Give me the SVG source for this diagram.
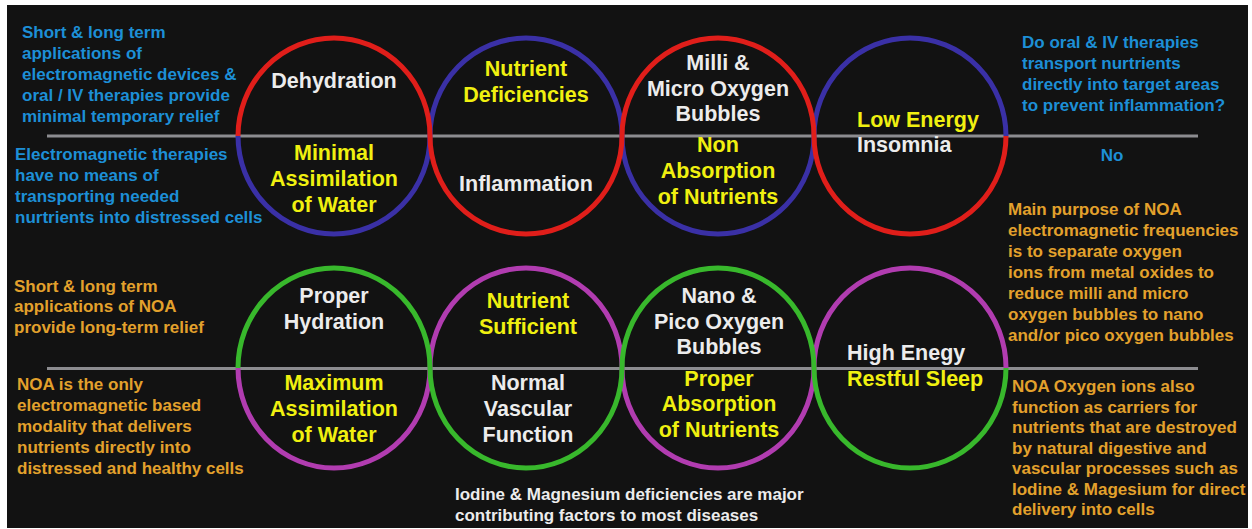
<svg xmlns="http://www.w3.org/2000/svg" width="1252" height="529" viewBox="0 0 1252 529">
<style>
text{font-family:"Liberation Sans",Arial,sans-serif;font-weight:bold}
.c{font-size:21.5px;text-anchor:middle}
.s{font-size:17px}
.w{fill:#ececec}
.y{fill:#f0f010}
.b{fill:#1d8fd6}
.o{fill:#e3a12c}
.arc{fill:none;stroke-width:5}
.red{stroke:#e01e1a}
.blu{stroke:#3a30a6}
.grn{stroke:#38b82c}
.mag{stroke:#b13cb0}
.axis{stroke:#8c8c90;stroke-width:3}
</style>
<rect x="0" y="0" width="1252" height="529" fill="#ffffff"/>
<rect x="7" y="5" width="1241" height="523" fill="#121212"/>
<g id="axes">
<line class="axis" x1="47" y1="136" x2="1198" y2="136"/>
<line class="axis" x1="47" y1="368.5" x2="1198" y2="368.5"/>
</g>
<g id="connectors">
<!-- under layer: blue / magenta halves -->
<path class="arc blu" d="M238 136 A96 98 0 0 0 430 136"/>
<path class="arc blu" d="M430 136 A96 98 0 0 1 622 136"/>
<path class="arc blu" d="M622 136 A96 98 0 0 0 814 136"/>
<path class="arc blu" d="M814 136 A96 98 0 0 1 1006 136"/>
<path class="arc mag" d="M238 368 A96 100 0 0 0 430 368"/>
<path class="arc mag" d="M430 368 A96 100 0 0 1 622 368"/>
<path class="arc mag" d="M622 368 A96 100 0 0 0 814 368"/>
<path class="arc mag" d="M814 368 A96 100 0 0 1 1006 368"/>
<!-- over layer: red / green halves -->
<path class="arc red" d="M238 136 A96 98 0 0 1 430 136"/>
<path class="arc red" d="M430 136 A96 98 0 0 0 622 136"/>
<path class="arc red" d="M622 136 A96 98 0 0 1 814 136"/>
<path class="arc red" d="M814 136 A96 98 0 0 0 1006 136"/>
<path class="arc grn" d="M238 368 A96 100 0 0 1 430 368"/>
<path class="arc grn" d="M430 368 A96 100 0 0 0 622 368"/>
<path class="arc grn" d="M622 368 A96 100 0 0 1 814 368"/>
<path class="arc grn" d="M814 368 A96 100 0 0 0 1006 368"/>
</g>
<g id="node-top-1">
<text class="c w" x="334" y="88">Dehydration</text>
<text class="c y" x="334" y="160">Minimal</text>
<text class="c y" x="334" y="186">Assimilation</text>
<text class="c y" x="334" y="212">of Water</text>
</g>
<g id="node-top-2">
<text class="c y" x="526" y="76">Nutrient</text>
<text class="c y" x="526" y="102">Deficiencies</text>
<text class="c w" x="526" y="191">Inflammation</text>
</g>
<g id="node-top-3">
<text class="c w" x="718" y="70">Milli &amp;</text>
<text class="c w" x="718" y="96">Micro Oxygen</text>
<text class="c w" x="718" y="121">Bubbles</text>
<text class="c y" x="718" y="152">Non</text>
<text class="c y" x="718" y="178">Absorption</text>
<text class="c y" x="718" y="204">of Nutrients</text>
</g>
<g id="node-top-4">
<text class="c y" x="857" y="127" text-anchor="start" style="text-anchor:start">Low Energy</text>
<text class="c w" x="857" y="152" style="text-anchor:start">Insomnia</text>
</g>
<g id="node-bottom-1">
<text class="c w" x="334" y="303">Proper</text>
<text class="c w" x="334" y="329">Hydration</text>
<text class="c y" x="334" y="390">Maximum</text>
<text class="c y" x="334" y="416">Assimilation</text>
<text class="c y" x="334" y="442">of Water</text>
</g>
<g id="node-bottom-2">
<text class="c y" x="528" y="308">Nutrient</text>
<text class="c y" x="528" y="334">Sufficient</text>
<text class="c w" x="528" y="390">Normal</text>
<text class="c w" x="528" y="416">Vascular</text>
<text class="c w" x="528" y="442">Function</text>
</g>
<g id="node-bottom-3">
<text class="c w" x="719" y="303">Nano &amp;</text>
<text class="c w" x="719" y="329">Pico Oxygen</text>
<text class="c w" x="719" y="354">Bubbles</text>
<text class="c y" x="719" y="386">Proper</text>
<text class="c y" x="719" y="411">Absorption</text>
<text class="c y" x="719" y="437">of Nutrients</text>
</g>
<g id="node-bottom-4">
<text class="c w" x="847" y="360" style="text-anchor:start">High Enegy</text>
<text class="c y" x="847" y="386" style="text-anchor:start">Restful Sleep</text>
</g>
<g id="note-top-left-upper">
<text class="s b" x="22" y="38">Short &amp; long term</text>
<text class="s b" x="22" y="59">applications of</text>
<text class="s b" x="22" y="80">electromagnetic devices &amp;</text>
<text class="s b" x="22" y="101">oral / IV therapies provide</text>
<text class="s b" x="22" y="122">minimal temporary relief</text>
</g>
<g id="note-top-left-lower">
<text class="s b" x="15" y="160">Electromagnetic therapies</text>
<text class="s b" x="15" y="181">have no means of</text>
<text class="s b" x="15" y="202">transporting needed</text>
<text class="s b" x="15" y="223">nurtrients into distressed cells</text>
</g>
<g id="note-top-right-upper">
<text class="s b" x="1022" y="48">Do oral &amp; IV therapies</text>
<text class="s b" x="1022" y="69">transport nurtrients</text>
<text class="s b" x="1022" y="90">directly into target areas</text>
<text class="s b" x="1022" y="111">to prevent inflammation?</text>
</g>
<g id="note-top-right-lower">
<text class="s b" x="1112" y="161" text-anchor="middle">No</text>
</g>
<g id="note-right-middle">
<text class="s o" x="1008" y="215">Main purpose of NOA</text>
<text class="s o" x="1008" y="236">electromagnetic frequencies</text>
<text class="s o" x="1008" y="257">is to separate oxygen</text>
<text class="s o" x="1008" y="278">ions from metal oxides to</text>
<text class="s o" x="1008" y="299">reduce milli and micro</text>
<text class="s o" x="1008" y="320">oxygen bubbles to nano</text>
<text class="s o" x="1008" y="341">and/or pico oxygen bubbles</text>
</g>
<g id="note-bottom-right">
<text class="s o" x="1012" y="392">NOA Oxygen ions also</text>
<text class="s o" x="1012" y="413">function as carriers for</text>
<text class="s o" x="1012" y="433">nutrients that are destroyed</text>
<text class="s o" x="1012" y="454">by natural digestive and</text>
<text class="s o" x="1012" y="474">vascular processes such as</text>
<text class="s o" x="1012" y="495">Iodine &amp; Magesium for direct</text>
<text class="s o" x="1012" y="515">delivery into cells</text>
</g>
<g id="note-bottom-left-upper">
<text class="s o" x="14" y="292">Short &amp; long term</text>
<text class="s o" x="14" y="312">applications of NOA</text>
<text class="s o" x="14" y="333">provide long-term relief</text>
</g>
<g id="note-bottom-left-lower">
<text class="s o" x="17" y="390">NOA is the only</text>
<text class="s o" x="17" y="411">electromagnetic based</text>
<text class="s o" x="17" y="432">modality that delivers</text>
<text class="s o" x="17" y="453">nutrients directly into</text>
<text class="s o" x="17" y="474">distressed and healthy cells</text>
</g>
<g id="note-bottom-center">
<text class="s w" x="455" y="500">Iodine &amp; Magnesium deficiencies are major</text>
<text class="s w" x="455" y="521">contributing factors to most diseases</text>
</g>
</svg>
